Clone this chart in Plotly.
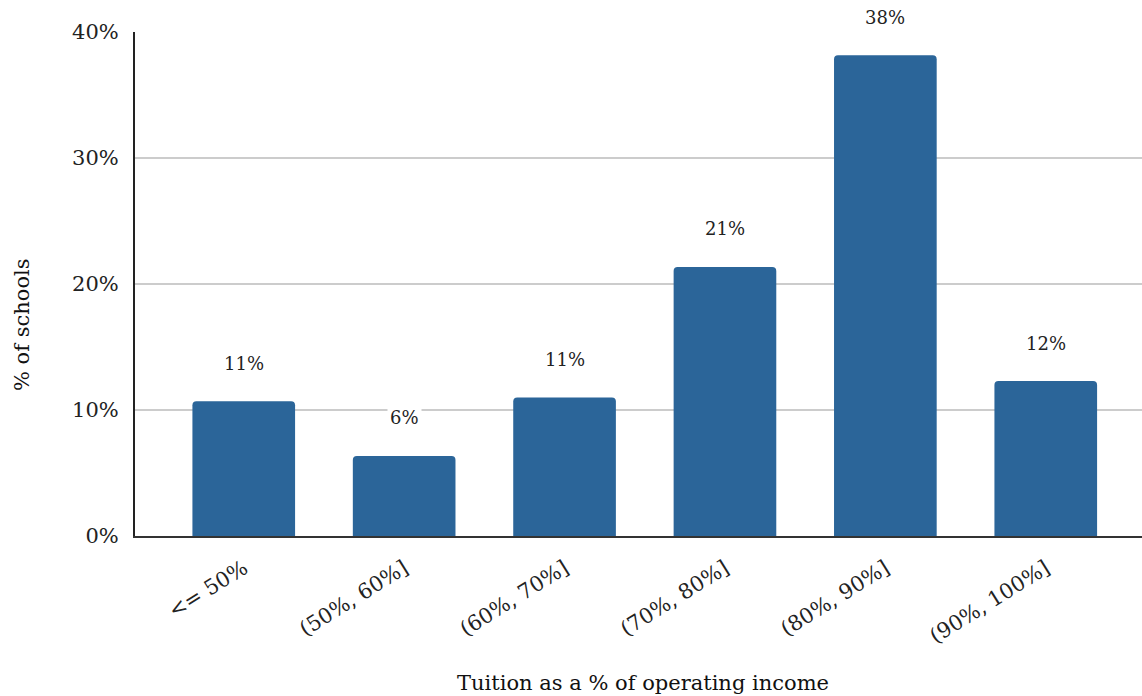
import plotly.graph_objects as go

# Share of schools by tuition share of operating income
categories = ["<= 50%", "(50%, 60%]", "(60%, 70%]", "(70%, 80%]", "(80%, 90%]", "(90%, 100%]"]
share_of_schools = [0.107, 0.0635, 0.110, 0.2135, 0.3815, 0.123]
y_ticks = [0, 0.1, 0.2, 0.3, 0.4]
y_tick_labels = ["0%", "10%", "20%", "30%", "40%"]

BAR_COLOR = "#2b6599"
SERIF = "DejaVu Serif, Georgia, serif"

fig = go.Figure(
    go.Bar(
        x=categories,
        y=share_of_schools,
        width=0.64,
        marker=dict(color=BAR_COLOR, line=dict(width=0), cornerradius=4),
        hoverinfo="skip",
    )
)

# Value labels floating above each bar
for cat, val in zip(categories, share_of_schools):
    fig.add_annotation(
        x=cat, y=val, xref="x", yref="y",
        text=f"{round(val * 100):.0f}%",
        showarrow=False, yanchor="middle", yshift=38,
        bgcolor="white", borderpad=2,
        font=dict(family=SERIF, size=18, color="#222222"),
    )

# Axis titles
fig.add_annotation(
    x=0.5045, y=-0.2917, xref="paper", yref="paper",
    text="Tuition as a % of operating income", showarrow=False,
    xanchor="center", yanchor="middle",
    font=dict(family=SERIF, size=21, color="#111111"),
)
fig.add_annotation(
    x=-0.112, y=0.419, xref="paper", yref="paper",
    text="% of schools", showarrow=False, textangle=-90,
    xanchor="center", yanchor="middle",
    font=dict(family=SERIF, size=21, color="#111111"),
)

fig.update_layout(
    width=1142, height=696,
    margin=dict(l=135, r=0, t=32, b=160),
    paper_bgcolor="white", plot_bgcolor="white",
    showlegend=False,
    bargap=0.36,
    xaxis=dict(
        type="category",
        range=[-0.678, 5.6],
        tickangle=-32,
        tickfont=dict(family=SERIF, size=21, color="#222222"),
        showgrid=False,
        showline=True, linecolor="#333333", linewidth=2,
        ticks="", ticklabelstandoff=10,
        zeroline=False,
    ),
    yaxis=dict(
        range=[0, 0.4],
        tickvals=y_ticks,
        ticktext=y_tick_labels,
        tickfont=dict(family=SERIF, size=21, color="#222222"),
        showgrid=True, gridcolor="#cccccc", gridwidth=2,
        showline=True, linecolor="#222222", linewidth=2,
        ticks="", ticklabelstandoff=10,
        zeroline=False,
    ),
)

fig.write_html("out.html")
